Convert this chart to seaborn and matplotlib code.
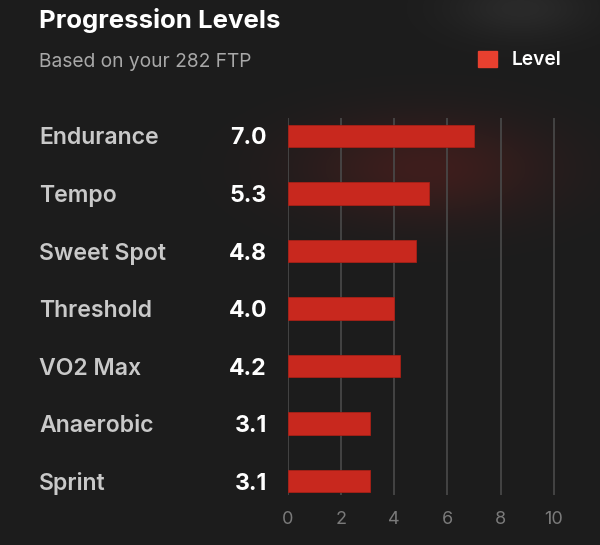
import numpy as np
import pandas as pd
import matplotlib
matplotlib.use("Agg")
import matplotlib.pyplot as plt
import matplotlib.transforms as mtrans
from matplotlib.patches import Patch
import seaborn as sns

categories = ["Endurance", "Tempo", "Sweet Spot", "Threshold", "VO2 Max", "Anaerobic", "Sprint"]
levels = [7.0, 5.3, 4.8, 4.0, 4.2, 3.1, 3.1]
x_ticks = [0, 2, 4, 6, 8, 10]
title = "Progression Levels"
subtitle = "Based on your 282 FTP"
legend_label = "Level"

BG = "#1c1c1c"
BAR = "#c8281e"
LEG = "#e8402f"
GRID = "#4a4a4a"

sns.set_theme(style="dark")
plt.rcParams["font.family"] = ["Inter", "DejaVu Sans"]

W, H = 600, 545
fig = plt.figure(figsize=(W / 100, H / 100), dpi=100)
fig.patch.set_facecolor(BG)

# soft background glows
bg_ax = fig.add_axes([0, 0, 1, 1], zorder=-10)
yy, xx = np.mgrid[0:H, 0:W]
base = np.array([0x1c, 0x1c, 0x1c], dtype=float) / 255
img = np.ones((H, W, 3)) * base
g1 = np.exp(-(((xx - 425) / 120.0) ** 2 + ((yy - 168) / 50.0) ** 2))
img += g1[..., None] * (np.array([0x3e, 0x1e, 0x1c]) / 255 - base)
g2 = np.exp(-(((xx - 520) / 70.0) ** 2 + ((yy - 8) / 30.0) ** 2))
img += g2[..., None] * (np.array([0x2a, 0x2a, 0x2a]) / 255 - base)
bg_ax.imshow(np.clip(img, 0, 1), extent=[0, W, H, 0], aspect="auto")
bg_ax.set_axis_off()

left, right = 288 / W, 567 / W
top, bottom = 1 - 118 / H, 1 - 495 / H
ax = fig.add_axes([left, bottom, right - left, top - bottom])
ax.set_facecolor("none")

df = pd.DataFrame({"category": categories, "level": levels})
sns.barplot(data=df, y="category", x="level", orient="h", color=BAR,
            width=0.39, saturation=1, ax=ax, zorder=3, edgecolor="#a82016", linewidth=0.6)

ax.set_xlim(0, 10.5)
ax.set_ylim(6.243, -0.313)
ax.set_xticks(x_ticks)
ax.set_xticklabels([str(t) for t in x_ticks])
ax.set_yticks([])
ax.set_xlabel("")
ax.set_ylabel("")
for s in ax.spines.values():
    s.set_visible(False)
ax.grid(axis="x", color=GRID, linewidth=1.2, zorder=0)
ax.grid(axis="y", visible=False)
ax.tick_params(axis="x", which="major", length=0, pad=11.5, labelsize=13, labelcolor="#7a7a7a")
ax.set_xticks([0], minor=True)
ax.tick_params(axis="x", which="minor", length=9.5, width=1.2, color=GRID, direction="out")

trans_lab = mtrans.blended_transform_factory(fig.transFigure, ax.transData)
for i, (c, v) in enumerate(zip(categories, levels)):
    ax.text(39 / W, i, c, transform=trans_lab, ha="left", va="center_baseline",
            fontsize=16.6, color="#c9c9c9", fontweight="semibold", clip_on=False)
    ax.text(267 / W, i, f"{v:.1f}", transform=trans_lab, ha="right", va="center_baseline",
            fontsize=16.6, color="white", fontweight="bold", clip_on=False)

fig.text(39 / W, 1 - 18 / H, title, ha="left", va="center_baseline", fontsize=18.6,
         fontweight="bold", color="white")
fig.text(39 / W, 1 - 60 / H, subtitle, ha="left", va="center_baseline", fontsize=13.8,
         color="#a8a8a8")

handle = Patch(facecolor=LEG, edgecolor=LEG)
leg = fig.legend([handle], [legend_label], loc="center right",
                 bbox_to_anchor=(579 / W, 1 - 60 / H), frameon=False,
                 handlelength=0.95, handleheight=0.95, handletextpad=0.8,
                 fontsize=13.8)
for t in leg.get_texts():
    t.set_color("white")
    t.set_fontweight("semibold")

fig.savefig("out.png", dpi=100, facecolor=BG)
